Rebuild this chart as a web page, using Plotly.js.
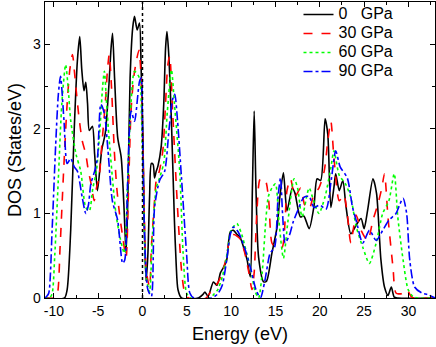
<!DOCTYPE html>
<html>
<head>
<meta charset="utf-8">
<script src="https://cdn.plot.ly/plotly-3.0.1.min.js"></script>
<style>
  html, body { margin: 0; padding: 0; background: #fff; }
  #chart { width: 436px; height: 347px; }
</style>
</head>
<body>
<div id="chart"></div>
<script>
// DOS curves, energy in eV
const e0 = [-11, -8.8, -8.5, -8.1, -7.7, -7.35, -7.08, -6.85, -6.6, -6.4, -6.2, -6.0, -5.65, -5.4, -5.08, -4.6, -4.2, -3.8, -3.55, -3.38, -3.15, -2.8, -2.4, -2.1, -1.85, -1.65, -1.4, -1.1, -0.9, -0.6, -0.34, -0.15, 0.04, 0.2, 0.4, 0.6, 0.8, 1.0, 1.2, 1.36, 1.55, 1.74, 2.1, 2.4, 2.6, 2.76, 2.95, 3.26, 3.6, 3.8, 4.0, 4.4, 6.3, 6.8, 7.05, 7.4, 8.0, 8.4, 8.8, 9.13, 9.5, 9.9, 10.26, 10.6, 11.0, 11.4, 11.8, 12.16, 12.4, 12.6, 12.8, 13.1, 13.67, 14.0, 14.6, 15.2, 15.5, 15.9, 16.3, 16.9, 17.2, 17.8, 18.2, 18.8, 19.35, 19.7, 20.1, 20.6, 20.9, 21.25, 21.6, 21.8, 22.2, 22.6, 22.95, 23.5, 24.1, 24.66, 25.0, 25.4, 26.0, 26.4, 26.9, 27.3, 27.7, 28.07, 28.4, 28.8, 33];
const dos0 = [0, 0, 0.1, 0.8, 2.0, 2.8, 3.09, 2.7, 2.45, 2.55, 2.3, 1.98, 2.03, 1.7, 1.27, 1.75, 1.95, 2.5, 2.95, 3.13, 2.6, 1.9, 1.66, 1.1, 0.53, 1.2, 2.6, 3.2, 3.33, 3.17, 3.25, 2.7, 1.94, 0.9, 0.2, 0.5, 1.2, 1.59, 1.58, 1.42, 1.5, 1.56, 1.78, 2.3, 2.95, 3.15, 2.9, 2.1, 0.92, 0.4, 0.1, 0, 0, 0.04, 0.07, 0.02, 0.19, 0.15, 0.3, 0.36, 0.45, 0.78, 0.8, 0.76, 0.72, 0.6, 0.45, 0.25, 1.3, 2.21, 1.3, 0.48, 0.19, 0.2, 0.53, 0.85, 1.2, 1.48, 1.03, 1.3, 1.24, 0.96, 0.97, 0.82, 1.09, 1.41, 1.39, 2.12, 1.94, 1.07, 1.31, 1.47, 1.27, 1.39, 1.09, 0.76, 0.86, 0.94, 0.82, 1.04, 1.41, 1.24, 0.45, 0.13, 0.03, 0.13, 0.01, 0, 0];

const e30 = [-11, -9.9, -9.6, -9.3, -8.9, -8.5, -8.2, -7.9, -7.7, -7.5, -7.16, -6.8, -6.4, -6.1, -5.8, -5.45, -5.2, -4.9, -4.6, -4.2, -3.95, -3.75, -3.5, -3.18, -2.9, -2.6, -2.2, -1.85, -1.6, -1.3, -1.0, -0.7, -0.4, -0.15, 0.1, 0.42, 0.8, 1.0, 1.36, 1.55, 1.9, 2.3, 2.6, 2.85, 3.07, 3.4, 3.83, 4.1, 4.4, 4.77, 5.2, 7.2, 7.6, 8.0, 8.5, 9.0, 9.5, 9.9, 10.3, 11.0, 11.5, 12.0, 12.35, 12.6, 12.9, 13.3, 13.86, 14.24, 14.6, 15.0, 15.4, 15.76, 16.3, 16.7, 17.2, 17.84, 18.3, 18.8, 19.35, 19.9, 20.5, 20.9, 21.25, 21.6, 22.2, 22.7, 23.1, 23.5, 24.1, 24.66, 25.4, 26.0, 26.56, 27.0, 27.3, 27.7, 28.26, 28.6, 29.2, 29.8, 30.3, 30.6, 33];
const dos30 = [0, 0, 0.05, 0.6, 1.5, 2.3, 2.7, 2.88, 2.7, 2.48, 2.13, 1.86, 1.7, 1.5, 1.35, 1.15, 1.3, 1.42, 1.8, 2.3, 2.7, 2.88, 2.5, 1.74, 1.3, 1.0, 0.7, 0.48, 1.2, 2.2, 2.6, 2.8, 2.93, 2.6, 1.5, 0.33, 0.13, 0.6, 1.15, 1.39, 1.5, 1.75, 2.3, 2.75, 2.86, 2.2, 1.3, 0.8, 0.33, 0.06, 0, 0, 0.06, 0.12, 0.18, 0.3, 0.5, 0.72, 0.75, 0.7, 0.55, 0.3, 0.1, 0.3, 1.0, 1.41, 1.39, 1.15, 0.65, 0.6, 0.6, 0.6, 1.27, 1.41, 1.2, 1.3, 1.1, 1.05, 1.23, 1.3, 1.5, 1.85, 2.09, 1.66, 1.15, 1.22, 1.0, 0.65, 0.98, 0.8, 0.68, 0.92, 1.11, 1.3, 1.47, 0.95, 0.36, 0.06, 0.05, 0.1, 0.02, 0, 0];

const e60 = [-11, -10.5, -10.2, -9.9, -9.5, -9.1, -8.67, -8.4, -8.1, -7.5, -6.97, -6.4, -6.0, -5.6, -5.2, -4.8, -4.5, -4.3, -4.05, -3.75, -3.0, -2.5, -2.05, -1.7, -1.3, -0.9, -0.34, -0.1, 0.15, 0.42, 0.8, 1.1, 1.55, 1.93, 2.4, 2.8, 3.26, 3.6, 4.2, 4.58, 4.97, 5.4, 7.6, 8.1, 8.5, 9.0, 9.5, 10.0, 10.64, 11.2, 11.7, 12.2, 12.7, 13.1, 13.5, 13.9, 14.2, 14.6, 15.0, 15.4, 15.9, 16.4, 17.1, 17.5, 18.0, 18.8, 19.3, 19.9, 20.6, 21.25, 21.6, 22.2, 22.9, 23.5, 24.1, 24.85, 25.6, 26.36, 27.1, 27.8, 28.4, 28.8, 29.4, 29.97, 30.5, 31, 33];
const dos60 = [0, 0, 0.05, 0.5, 1.4, 2.3, 2.76, 2.5, 2.1, 1.7, 1.5, 1.07, 1.03, 1.3, 1.5, 2.0, 2.5, 2.68, 2.3, 1.86, 1.0, 0.7, 0.53, 1.3, 2.3, 2.68, 2.6, 2.1, 1.0, 0.25, 0.07, 0.7, 1.3, 1.42, 1.6, 2.2, 2.7, 2.3, 1.5, 0.53, 0.06, 0, 0, 0.05, 0.1, 0.25, 0.5, 0.8, 0.88, 0.75, 0.55, 0.35, 0.08, 0, 0.3, 0.9, 1.2, 1.3, 1.35, 0.9, 0.47, 0.9, 1.41, 1.3, 0.96, 1.3, 1.15, 1.0, 1.2, 1.54, 1.74, 1.45, 1.35, 1.19, 0.85, 0.6, 0.41, 0.65, 1.0, 1.15, 1.47, 0.96, 0.45, 0.1, 0.02, 0, 0];

const e90 = [-11, -10.8, -10.57, -10.2, -9.8, -9.5, -9.25, -8.86, -8.5, -8.1, -7.7, -7.35, -6.8, -6.4, -6.1, -5.83, -5.4, -5.08, -4.7, -4.3, -3.9, -3.4, -2.8, -2.24, -2.0, -1.7, -1.28, -0.9, -0.34, -0.15, 0.0, 0.23, 0.6, 1.0, 1.36, 1.93, 2.5, 3.0, 3.4, 3.64, 3.95, 4.4, 4.97, 5.34, 5.8, 7.8, 8.5, 9.0, 9.5, 9.9, 10.26, 10.8, 11.5, 12.2, 12.8, 13.3, 13.8, 14.4, 14.9, 15.3, 15.57, 15.8, 16.1, 16.6, 17.0, 17.5, 18.2, 18.8, 19.35, 20.0, 20.7, 21.3, 21.8, 22.3, 23.1, 23.7, 24.1, 24.85, 25.6, 26.36, 27.1, 27.8, 28.6, 29.0, 29.4, 29.8, 30.15, 30.7, 31.5, 32.2, 33];
const dos90 = [0, 0.02, 0.06, 0.8, 1.8, 2.4, 2.62, 2.1, 1.59, 1.65, 1.55, 1.5, 1.19, 1.0, 1.1, 1.35, 1.5, 1.66, 2.29, 2.18, 1.75, 1.15, 0.92, 0.41, 0.45, 1.3, 2.21, 2.09, 2.56, 2.6, 2.0, 0.76, 0.1, 0.02, 1.07, 1.39, 1.5, 2.0, 2.35, 2.41, 2.1, 1.42, 0.53, 0.06, 0, 0, 0.05, 0.15, 0.45, 0.75, 0.84, 0.78, 0.6, 0.35, 0.1, 0, 0.2, 0.53, 0.6, 1.2, 1.42, 1.0, 0.65, 0.75, 0.9, 1.03, 1.19, 1.2, 1.07, 1.1, 1.05, 1.4, 1.74, 1.55, 1.42, 1.07, 0.92, 0.65, 0.8, 0.68, 0.8, 0.92, 1.0, 1.1, 1.18, 1.0, 0.45, 0.13, 0.06, 0.04, 0];

const xTicks = [-10, -5, 0, 5, 10, 15, 20, 25, 30];
const xTickText = ['-10', '-5', '0', '5', '10', '15', '20', '25', '30'];
const xMinor = [-7.5, -2.5, 2.5, 7.5, 12.5, 17.5, 22.5, 27.5, 32.5];
const yTicks = [0, 1, 2, 3];
const yMinor = [0.5, 1.5, 2.5];

// legend rows are tight in the original, so the text is enlarged inside a small legend font
const names = ['0\u00a0\u00a0\u00a0GPa', '30 GPa', '60 GPa', '90 GPa'];

function trace(x, y, name, color, dash) {
    return {
        x: x, y: y,
        name: '<span style="font-size:16px">' + name + '</span>',
        type: 'scatter', mode: 'lines',
        line: { color: color, width: 1.6, dash: dash, shape: 'spline', smoothing: 0.7 }
    };
}

const data = [
    trace(e0, dos0, names[0], '#000000', 'solid'),
    trace(e30, dos30, names[1], '#ff0000', 'dash'),
    trace(e60, dos60, names[2], '#00ff00', 'dot'),
    trace(e90, dos90, names[3], '#0000ff', 'dashdot')
];

const fam = 'Liberation Sans, Arial, sans-serif';
const axisFont = { family: fam, size: 14, color: '#000' };

const layout = {
    width: 436, height: 347,
    margin: { l: 45, r: 1, t: 1, b: 49 },
    paper_bgcolor: '#fff', plot_bgcolor: '#fff',
    font: axisFont,
    showlegend: true,
    legend: {
        x: 0.65, y: 1.005, xanchor: 'left', yanchor: 'top',
        bgcolor: 'rgba(0,0,0,0)', borderwidth: 0,
        font: { family: fam, size: 11.5, color: '#000' },
        tracegroupgap: 0
    },
    xaxis: {
        range: [-11, 33], showgrid: false, zeroline: false,
        showline: true, linecolor: '#000', linewidth: 1.3, mirror: 'ticks',
        ticks: 'inside', ticklen: 5, tickcolor: '#000', tickwidth: 1,
        tickmode: 'array', tickvals: xTicks, ticktext: xTickText,
        minor: { tickmode: 'array', tickvals: xMinor, ticks: 'inside', ticklen: 3, tickcolor: '#000' },
        tickfont: axisFont,
        title: { text: 'Energy (eV)', font: { family: fam, size: 18 }, standoff: 9 }
    },
    yaxis: {
        range: [0, 3.5], showgrid: false, zeroline: false,
        showline: true, linecolor: '#000', linewidth: 1.3, mirror: 'ticks',
        ticks: 'inside', ticklen: 5, tickcolor: '#000', tickwidth: 1,
        tickmode: 'array', tickvals: yTicks,
        minor: { tickmode: 'array', tickvals: yMinor, ticks: 'inside', ticklen: 3, tickcolor: '#000' },
        tickfont: axisFont,
        title: { text: 'DOS (States/eV)', font: { family: fam, size: 18 }, standoff: 6 }
    },
    shapes: [{
        type: 'line', xref: 'x', yref: 'paper', x0: 0, x1: 0, y0: 0, y1: 1,
        line: { color: '#000', width: 1.5, dash: 'dot' }
    }]
};

Plotly.newPlot('chart', data, layout, { staticPlot: true, displayModeBar: false });
</script>
</body>
</html>
